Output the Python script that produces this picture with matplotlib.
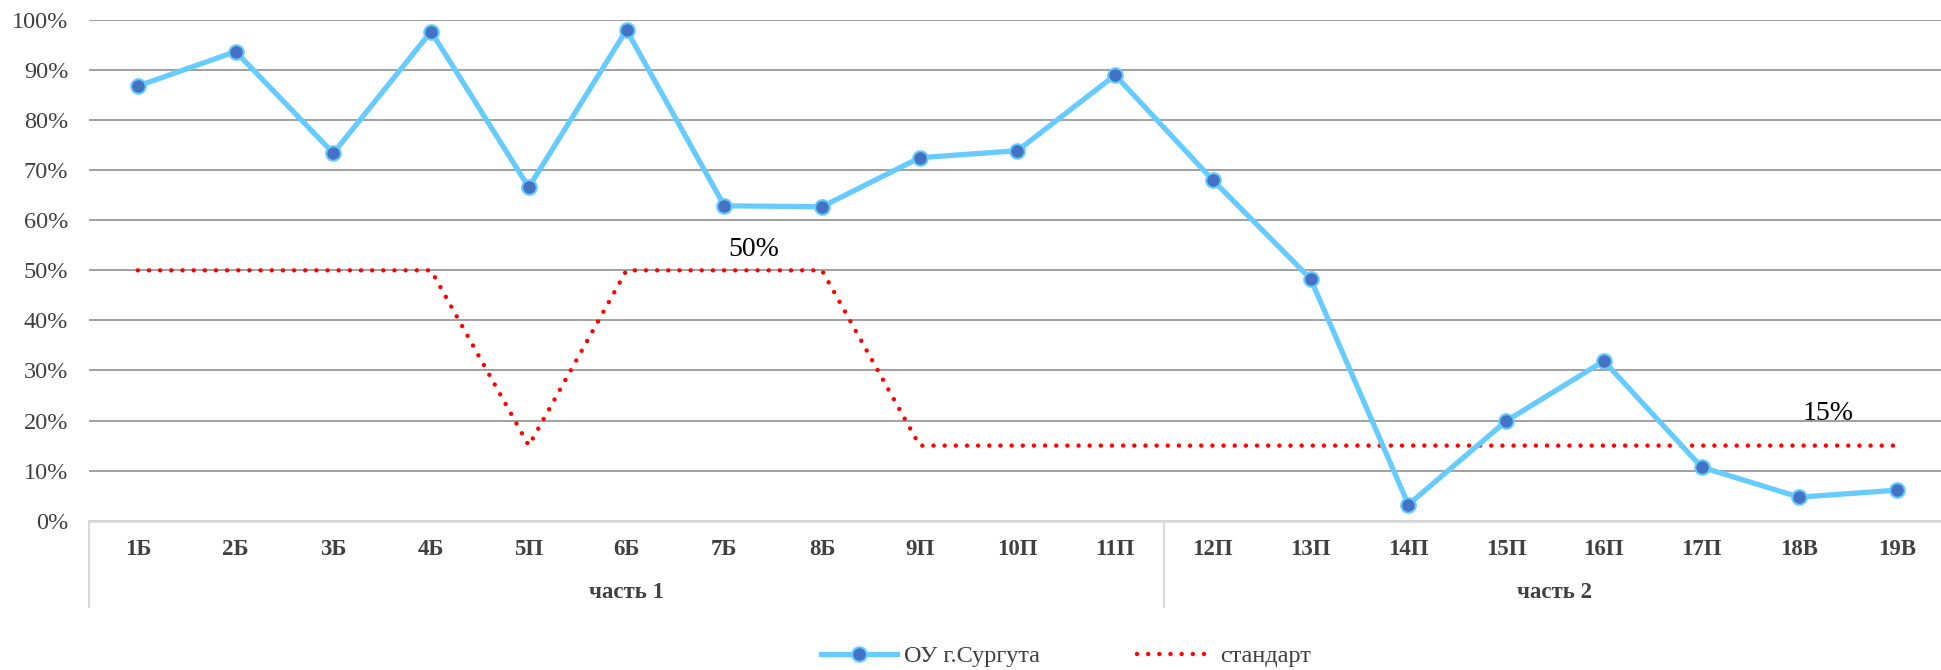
import matplotlib.pyplot as plt
import matplotlib.lines as mlines
import numpy as np

plt.rcParams['font.family'] = ['Liberation Serif', 'DejaVu Serif']

# данные
cats = ['1Б', '2Б', '3Б', '4Б', '5П', '6Б', '7Б', '8Б', '9П', '10П', '11П',
        '12П', '13П', '14П', '15П', '16П', '17П', '18В', '19В']
surgut = [86.8, 93.7, 73.4, 97.7, 66.6, 98.0, 62.9, 62.7, 72.5, 73.9, 89.0,
          68.0, 48.3, 3.2, 19.9, 31.9, 10.7, 4.7, 6.1]
standard = [50, 50, 50, 50, 15, 50, 50, 50, 15, 15, 15,
            15, 15, 15, 15, 15, 15, 15, 15]
groups = ['часть 1', 'часть 2']
group_sizes = [11, 8]
yticks = [0, 10, 20, 30, 40, 50, 60, 70, 80, 90, 100]

x = np.arange(len(cats))
surgut = np.array(surgut) / 100
standard = np.array(standard) / 100

fig = plt.figure(figsize=(19.41, 6.70), dpi=100)
ax = fig.add_axes([89 / 1941, 149.3 / 670, 1 - 89 / 1941, 500.7 / 670])

ax.plot(x, surgut, color='#66CCFF', lw=3.8, marker='o', ms=10.5,
        mfc='#4472C4', mec='#66CCFF', mew=1.5, zorder=3,
        solid_joinstyle='round', label='ОУ г.Сургута')
ax.plot(x, standard, color='#FF0000', lw=3.2, linestyle=(0, (0.01, 2.5)),
        dash_capstyle='round', zorder=2, label='стандарт')

ax.set_ylim(0, 1)
ax.set_xlim(-0.5, 18.45)
ax.set_yticks(np.array(yticks) / 100)
ax.set_yticklabels([f'{v}%' for v in yticks], fontsize=17.5, color='#404040')
ax.set_xticks(x)
ax.set_xticklabels(cats, fontsize=16.5, fontweight='bold', color='#404040')
ax.tick_params(axis='y', length=0, pad=15)
ax.tick_params(axis='x', length=0, pad=13)
ax.yaxis.grid(True, color='#999999', lw=1.3)
ax.set_axisbelow(True)
for s in ['top', 'right', 'left']:
    ax.spines[s].set_visible(False)
ax.spines['bottom'].set_color('#d9d9d9')
ax.spines['bottom'].set_linewidth(2)

# подписи групп и разделители
trans = ax.get_xaxis_transform()
start = -0.5
bounds = [start]
for g, n in zip(groups, group_sizes):
    mid = start + n / 2
    ax.text(mid, -0.144, g, transform=trans, ha='center', va='center',
            fontsize=16.5, fontweight='bold', color='#404040')
    start += n
    bounds.append(start)
for b in bounds[:-1]:
    ax.plot([b, b], [0, -0.172], transform=trans, color='#d9d9d9', lw=1.5,
            clip_on=False)

ax.text(6.3, 0.541, '50%', ha='center', va='center', fontsize=20, color='black')
ax.text(17.29, 0.215, '15%', ha='center', va='center', fontsize=20, color='black')

h1 = mlines.Line2D([], [], color='#66CCFF', lw=3.8, marker='o', ms=10.5,
                   mfc='#4472C4', mec='#66CCFF', mew=1.5)
h2 = mlines.Line2D([], [], color='#FF0000', lw=3.2, linestyle=(0, (0.01, 2.5)),
                   dash_capstyle='round')
fig.legend([h1, h2], ['ОУ г.Сургута', 'стандарт'], loc='center',
           bbox_to_anchor=(1066 / 1941, 1 - 656 / 670), ncol=2, frameon=False,
           fontsize=17.5, handlelength=3.1, handletextpad=0.3, columnspacing=4.0,
           labelcolor='#404040')

fig.savefig('out.png', dpi=100)
